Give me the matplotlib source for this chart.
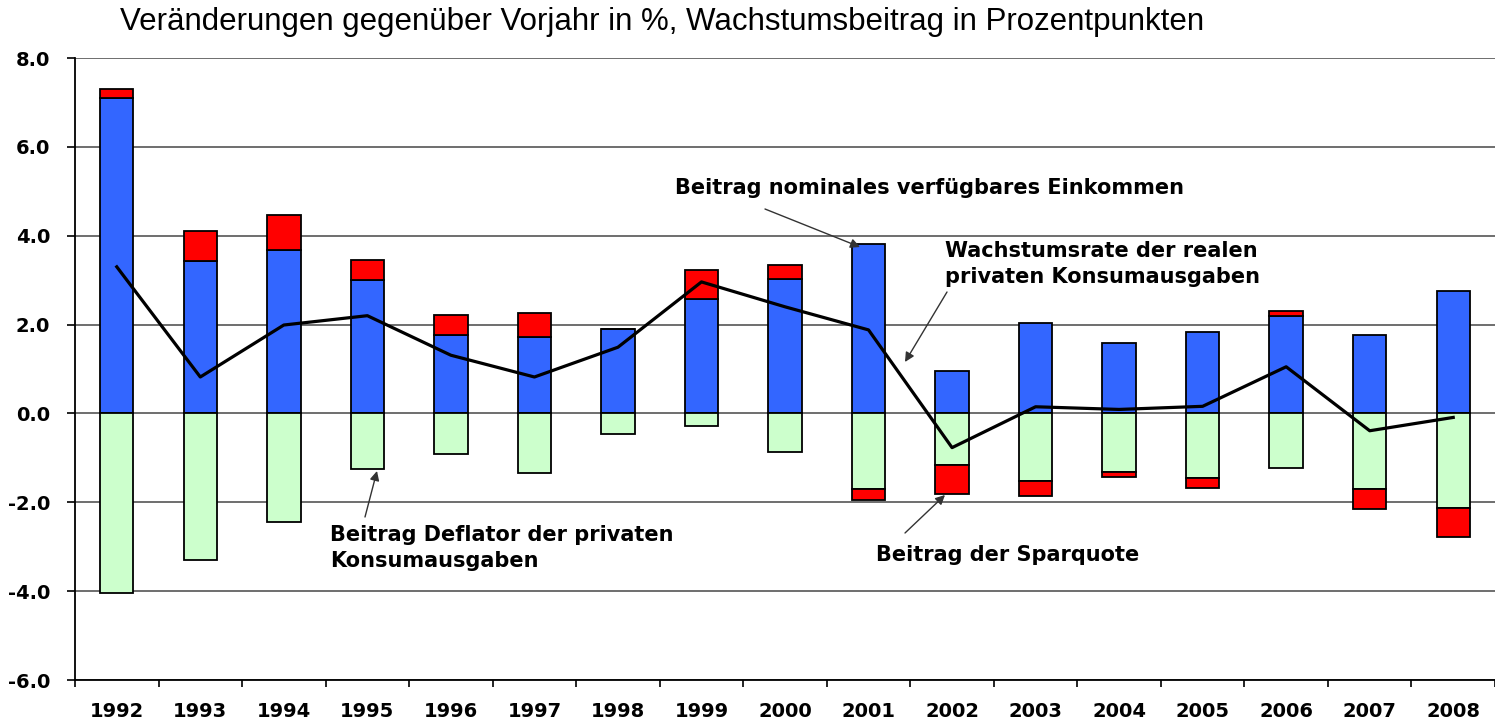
import numpy as np
import matplotlib.pyplot as plt

years = ['1992', '1993', '1994', '1995', '1996', '1997', '1998', '1999', '2000',
         '2001', '2002', '2003', '2004', '2005', '2006', '2007', '2008']
einkommen = [7.09, 3.44, 3.67, 3.00, 1.76, 1.73, 1.89, 2.57, 3.02,
             3.82, 0.95, 2.03, 1.58, 1.84, 2.19, 1.76, 2.75]
deflator = [-4.04, -3.29, -2.45, -1.25, -0.92, -1.33, -0.47, -0.29, -0.87,
            -1.71, -1.16, -1.51, -1.31, -1.45, -1.22, -1.71, -2.12]
sparquote = [0.21, 0.66, 0.80, 0.45, 0.45, 0.54, 0.0, 0.66, 0.31,
             -0.23, -0.66, -0.35, -0.11, -0.23, 0.11, -0.43, -0.67]
konsum = [3.30, 0.82, 1.99, 2.20, 1.31, 0.82, 1.49, 2.96, 2.40,
          1.88, -0.77, 0.15, 0.09, 0.16, 1.05, -0.39, -0.09]

W, H = 1495, 720
fig = plt.figure(figsize=(W / 100, H / 100), dpi=100)
ax = fig.add_axes([75 / W, 40 / H, 1 - 75 / W, 622 / H])

x = np.arange(len(years))
ein = np.array(einkommen)
dfl = np.array(deflator)
spq = np.array(sparquote)
spq_bottom = np.where(spq >= 0, ein, dfl)

bw = 0.4
ekw = dict(edgecolor='black', linewidth=1.3, zorder=3)
ax.bar(x, ein, bw, color='#3366FF', **ekw)
ax.bar(x, dfl, bw, color='#CCFFCC', **ekw)
ax.bar(x, spq, bw, bottom=spq_bottom, color='#FF0000', **ekw)
ax.plot(x, konsum, color='black', lw=2.3, zorder=4)

ax.set_xlim(-0.5, -0.5 + (W - 75) / 84)
ax.set_ylim(-6, 8)
ax.set_yticks(np.arange(-6, 8.1, 2))
ax.set_yticklabels(['%.1f' % v for v in np.arange(-6, 8.1, 2)])
ax.set_xticks(x)
ax.set_xticklabels(years)
ax.set_xticks(np.arange(-0.5, len(years), 1), minor=True)
ax.tick_params(axis='x', which='major', length=0, pad=16)
ax.tick_params(axis='x', which='minor', length=5, width=1.2, direction='out')
ax.tick_params(axis='y', length=6, width=1.2, direction='out', pad=12)
for lab in ax.get_xticklabels() + ax.get_yticklabels():
    lab.set_fontweight('bold')
    lab.set_fontsize(14)

ax.grid(axis='y', color='#555555', lw=1.2, zorder=0)
ax.set_axisbelow(True)
for s in ['top', 'right']:
    ax.spines[s].set_visible(False)
ax.spines['left'].set_linewidth(1.3)
ax.spines['bottom'].set_linewidth(1.3)

fig.text(120 / W, 1 - 22 / H, 'Veränderungen gegenüber Vorjahr in %, Wachstumsbeitrag in Prozentpunkten',
         family='Liberation Sans', fontsize=22.5, va='center', ha='left')


def px(xp, yp):
    return (xp / W, 1 - yp / H)


arr = dict(arrowstyle='-|>', color='#333333', lw=1, mutation_scale=14, shrinkA=0, shrinkB=0)
akw = dict(xycoords='figure fraction', textcoords='figure fraction', fontsize=15,
           fontweight='bold', ha='left', va='center', linespacing=1.4)

ax.annotate('', xy=px(860, 247), xytext=px(765, 209), xycoords='figure fraction',
            textcoords='figure fraction', arrowprops=arr)
ax.annotate('Beitrag nominales verfügbares Einkommen', xy=px(675, 188), **akw)

ax.annotate('', xy=px(905, 362), xytext=px(947, 292), xycoords='figure fraction',
            textcoords='figure fraction', arrowprops=arr)
ax.annotate('Wachstumsrate der realen\nprivaten Konsumausgaben', xy=px(945, 264), **akw)

ax.annotate('', xy=px(377, 471), xytext=px(365, 517), xycoords='figure fraction',
            textcoords='figure fraction', arrowprops=arr)
ax.annotate('Beitrag Deflator der privaten\nKonsumausgaben', xy=px(330, 548), **akw)

ax.annotate('', xy=px(945, 495), xytext=px(905, 533), xycoords='figure fraction',
            textcoords='figure fraction', arrowprops=arr)
ax.annotate('Beitrag der Sparquote', xy=px(876, 555), **akw)

fig.savefig('out.png', dpi=100)
